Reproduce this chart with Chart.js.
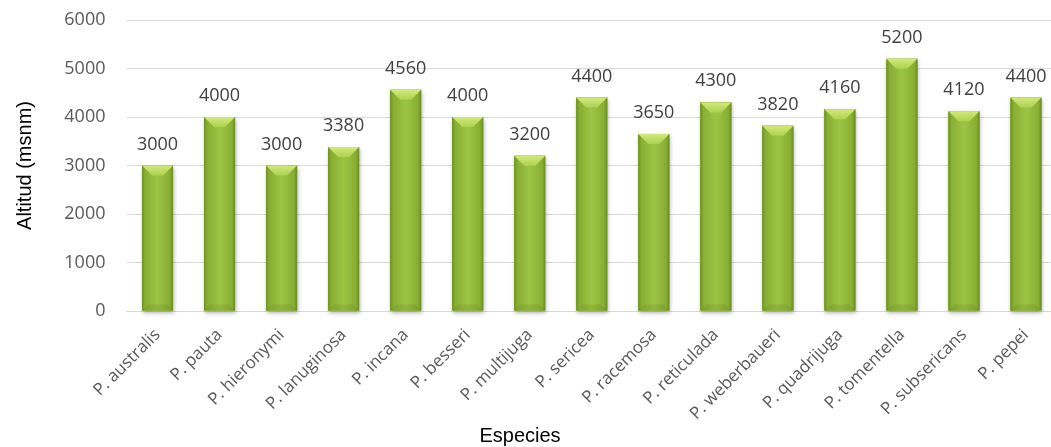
<!DOCTYPE html>
<html>
<head>
<meta charset="utf-8">
<script src="https://cdn.jsdelivr.net/npm/chart.js@4/dist/chart.umd.min.js"></script>
<style>
  html, body { margin: 0; padding: 0; background: #ffffff; overflow: hidden; }
  #wrap { width: 1060px; height: 447px; }
</style>
</head>
<body>
<div id="wrap"><canvas id="c" width="1060" height="447"></canvas></div>
<script>
// Altitude reached by each species
const species = [
  'P. australis', 'P. pauta', 'P. hieronymi', 'P. lanuginosa', 'P. incana',
  'P. besseri', 'P. multijuga', 'P. sericea', 'P. racemosa', 'P. reticulada',
  'P. weberbaueri', 'P. quadrijuga', 'P. tomentella', 'P. subsericans', 'P. pepei'
];
const altitude = [3000, 4000, 3000, 3380, 4560, 4000, 3200, 4400, 3650, 4300, 3820, 4160, 5200, 4120, 4400];
const yTicks = [0, 1000, 2000, 3000, 4000, 5000, 6000];

const tickFont = { family: '"Open Sans", sans-serif', size: 18 };
const labelFont = '18px "Open Sans", sans-serif';

// Shaded green column: dark rims, light centre, bevelled top and bottom
const bevelBars = {
  id: 'bevelBars',
  beforeDatasetsDraw(chart) {
    const ctx = chart.ctx;
    chart.getDatasetMeta(0).data.forEach(bar => {
      const l = bar.x - bar.width / 2;
      // soft drop shadow under each column
      ctx.save();
      ctx.shadowColor = 'rgba(0,0,0,0.3)';
      ctx.shadowBlur = 4;
      ctx.shadowOffsetX = 1;
      ctx.shadowOffsetY = 2;
      ctx.fillStyle = '#86ab32';
      ctx.fillRect(l, bar.y, bar.width, bar.base - bar.y);
      ctx.restore();
    });
  },
  afterDatasetsDraw(chart) {
    const ctx = chart.ctx;
    chart.getDatasetMeta(0).data.forEach((bar, i) => {
      const l = bar.x - bar.width / 2, r = bar.x + bar.width / 2;
      const t = bar.y, b = bar.base;
      const d = 10;
      // body shading
      const g = ctx.createLinearGradient(l, 0, r, 0);
      g.addColorStop(0, '#6c9024');
      g.addColorStop(0.1, '#88ae33');
      g.addColorStop(0.5, '#9cc544');
      g.addColorStop(0.9, '#88ae33');
      g.addColorStop(1, '#698c22');
      ctx.fillStyle = g;
      ctx.fillRect(l, t, r - l, b - t);
      // top bevel
      const gt = ctx.createLinearGradient(0, t, 0, t + d);
      gt.addColorStop(0, '#d2e97a');
      gt.addColorStop(1, '#acd24e');
      ctx.fillStyle = gt;
      ctx.beginPath();
      ctx.moveTo(l, t); ctx.lineTo(r, t);
      ctx.lineTo(r - d, t + d); ctx.lineTo(l + d, t + d);
      ctx.closePath(); ctx.fill();
      // bottom bevel
      ctx.fillStyle = 'rgba(95,125,28,0.2)';
      ctx.beginPath();
      ctx.moveTo(l, b); ctx.lineTo(r, b);
      ctx.lineTo(r - 6, b - 6); ctx.lineTo(l + 6, b - 6);
      ctx.closePath(); ctx.fill();

      // value label
      ctx.save();
      ctx.font = labelFont;
      ctx.fillStyle = '#404040';
      ctx.textAlign = 'center';
      ctx.textBaseline = 'alphabetic';
      ctx.fillText(String(altitude[i]), bar.x, t - 16);
      ctx.restore();
    });
  }
};

// Horizontal axis caption
const xCaption = {
  id: 'xCaption',
  afterDraw(chart) {
    const ctx = chart.ctx;
    ctx.save();
    ctx.font = '20px "Liberation Sans", Arial, sans-serif';
    ctx.fillStyle = '#000000';
    ctx.textAlign = 'center';
    ctx.textBaseline = 'alphabetic';
    ctx.fillText('Especies', 520, 442);
    ctx.restore();
  }
};

new Chart(document.getElementById('c'), {
  type: 'bar',
  data: {
    labels: species,
    datasets: [{
      data: altitude,
      backgroundColor: '#8fb83a',
      borderWidth: 0,
      categoryPercentage: 1,
      barPercentage: 0.5
    }]
  },
  plugins: [bevelBars, xCaption],
  options: {
    responsive: false,
    animation: false,
    layout: { padding: { top: 20, right: 3, bottom: 0, left: 0 } },
    plugins: { legend: { display: false }, tooltip: { enabled: false } },
    scales: {
      x: {
        offset: true,
        grid: { display: false, drawTicks: false },
        border: { display: true, color: '#d9d9d9', width: 1 },
        ticks: {
          font: { family: '"Open Sans", sans-serif', size: 17 },
          color: '#595959',
          minRotation: 45,
          maxRotation: 45,
          autoSkip: false,
          padding: 14
        },
        afterFit(scale) { scale.height = 136; }
      },
      y: {
        min: 0,
        max: 6000,
        afterBuildTicks(scale) { scale.ticks = yTicks.map(v => ({ value: v })); },
        grid: { color: '#d9d9d9', lineWidth: 1, drawTicks: false },
        border: { display: false },
        ticks: {
          font: tickFont,
          color: '#595959',
          padding: 21,
          callback: v => String(v)
        },
        title: {
          display: true,
          text: 'Altitud (msnm)',
          font: { family: '"Liberation Sans", Arial, sans-serif', size: 20 },
          color: '#000000',
          padding: { top: 13, bottom: 0 }
        },
        afterFit(scale) {
          scale.width = 126.5;
          scale.paddingTop = 0;
          scale.paddingBottom = 0;
        }
      }
    }
  }
});
</script>
</body>
</html>
